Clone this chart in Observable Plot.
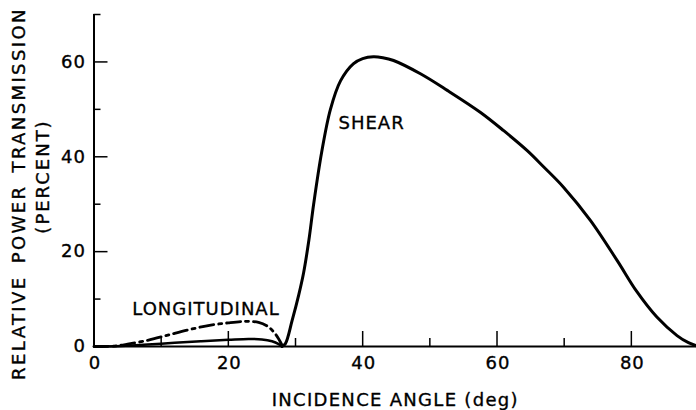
<!DOCTYPE html>
<html>
<head>
<meta charset="utf-8">
<script src="https://cdn.jsdelivr.net/npm/d3@7"></script>
<script src="https://cdn.jsdelivr.net/npm/@observablehq/plot@0.6"></script>
<style>
  html, body { margin: 0; padding: 0; background: #fff; }
</style>
</head>
<body>
<div id="chart"></div>
<script>
// Shear curve (beyond the critical angle)
const shearAngle = [28, 28.5, 29.5, 30.5, 31.2, 32, 32.7, 33.9, 35.2, 36.7, 38.6, 40, 41.6, 43, 44.6, 48.6, 52.6, 57.5, 61, 64.5, 67, 69.9, 73.9, 77.9, 80.8, 83.8, 86.8, 88.5, 90];
const shearValue = [0, 0.6, 5.5, 11, 15.5, 22.5, 30, 41, 50, 56, 59.6, 60.7, 61.1, 60.9, 60.3, 57.5, 54, 49.4, 45.5, 41.3, 37.8, 33.6, 26.6, 18.1, 11.6, 6.2, 2.3, 0.8, 0];
// Shear curve below the critical angle (solid)
const lowAngle = [0, 4, 8, 12, 16, 20, 23, 25, 26.5, 27.5, 28];
const lowValue = [0, 0.1, 0.4, 0.8, 1.1, 1.4, 1.6, 1.5, 1.1, 0.5, 0];
// Longitudinal curve (dash-dot)
const longAngle = [0, 3, 5, 8, 11, 14, 17, 20, 22.5, 24.5, 25.8, 26.8, 27.5, 28];
const longValue = [0, 0.1, 0.5, 1.3, 2.4, 3.5, 4.4, 5.0, 5.3, 5.1, 4.3, 3.0, 1.6, 0.3];

// Ticks
const xLabels = [0, 20, 40, 60, 80];
const xMajor = [20, 40, 60, 80];
const xMinor = [10, 30, 50, 70];
const yLabels = [0, 20, 40, 60];
const yMajor = [20, 40, 60];
const yMinor = [10, 30, 50, 70];

// Curve labels
const curveLabels = ["LONGITUDINAL", "SHEAR"];
const curveLabelAngle = [5.7, 36.4];
const curveLabelValue = [7.8, 47.1];

const xTitle = "INCIDENCE ANGLE (deg)";
const yTitle1 = "RELATIVE POWER TRANSMISSION";
const yTitle2 = "(PERCENT)";

const shear = shearAngle.map((a, i) => ({a, v: shearValue[i]}));
const low = lowAngle.map((a, i) => ({a, v: lowValue[i]}));
const longi = longAngle.map((a, i) => ({a, v: longValue[i]}));
const labels = curveLabels.map((t, i) => ({t, a: curveLabelAngle[i], v: curveLabelValue[i]}));

const W = 696, H = 410;
const mL = 93.5, mR = 0, mT = 14, mB = 64;
const pw = W - mL - mR, ph = H - mT - mB;
const txt = {fill: "#000", stroke: "#000", strokeWidth: 0.35};

const chart = Plot.plot({
  width: W,
  height: H,
  marginLeft: mL,
  marginRight: mR,
  marginTop: mT,
  marginBottom: mB,
  x: {domain: [0, 89.7], axis: null},
  y: {domain: [0, 70], axis: null},
  style: {fontFamily: "'DejaVu Sans', sans-serif", fontSize: "18px", color: "#000", background: "#fff", letterSpacing: "1px"},
  marks: [
    // axis lines
    Plot.ruleX([0], {y1: 0, y2: 70, strokeWidth: 2, stroke: "#000"}),
    Plot.ruleY([0], {x1: 0, x2: 90, strokeWidth: 2, stroke: "#000"}),
    // ticks
    Plot.tickY(yMajor, {y: d => d, insetRight: pw - 14, strokeWidth: 1.5, stroke: "#000"}),
    Plot.tickY(yMinor, {y: d => d, insetRight: pw - 7, strokeWidth: 1.5, stroke: "#000"}),
    Plot.tickX(xMajor, {x: d => d, insetTop: ph - 15, strokeWidth: 1.5, stroke: "#000"}),
    Plot.tickX(xMinor, {x: d => d, insetTop: ph - 8, strokeWidth: 1.5, stroke: "#000"}),
    // tick labels
    Plot.text(xLabels, {x: d => d, y: 0, dy: 17, dx: 1, text: d => String(d), ...txt}),
    Plot.text(yLabels, {x: 0, y: d => d, dx: -8, textAnchor: "end", text: d => String(d), ...txt}),
    // curves
    Plot.line(low, {x: "a", y: "v", curve: "catmull-rom", stroke: "#000", strokeWidth: 2.5}),
    Plot.line(longi, {x: "a", y: "v", curve: "catmull-rom", stroke: "#000", strokeWidth: 2.8, strokeDasharray: "14,5,3,5"}),
    Plot.line(shear, {x: "a", y: "v", curve: "catmull-rom", stroke: "#000", strokeWidth: 3}),
    // curve labels
    Plot.text(labels, {x: "a", y: "v", text: "t", textAnchor: "start", ...txt}),
    // axis titles
    Plot.text([xTitle], {frameAnchor: "bottom", lineAnchor: "middle", textAnchor: "middle", dy: 54, text: d => d, ...txt}),
    Plot.text([yTitle1], {frameAnchor: "left", textAnchor: "middle", lineAnchor: "middle", dx: -75, dy: 13, rotate: -90, text: d => d, ...txt}),
    Plot.text([yTitle2], {frameAnchor: "left", textAnchor: "middle", lineAnchor: "middle", dx: -51, dy: -4, rotate: -90, text: d => d, ...txt})
  ]
});
d3.select(chart).selectAll("text").each(function() {
  if (this.textContent === yTitle1) { this.style.letterSpacing = "2.4px"; this.style.wordSpacing = "4px"; }
  if (this.textContent === yTitle2) { this.style.letterSpacing = "2px"; }
  if (this.textContent === xTitle) { this.style.letterSpacing = "1.3px"; }
});
document.getElementById("chart").appendChild(chart);
</script>
</body>
</html>
